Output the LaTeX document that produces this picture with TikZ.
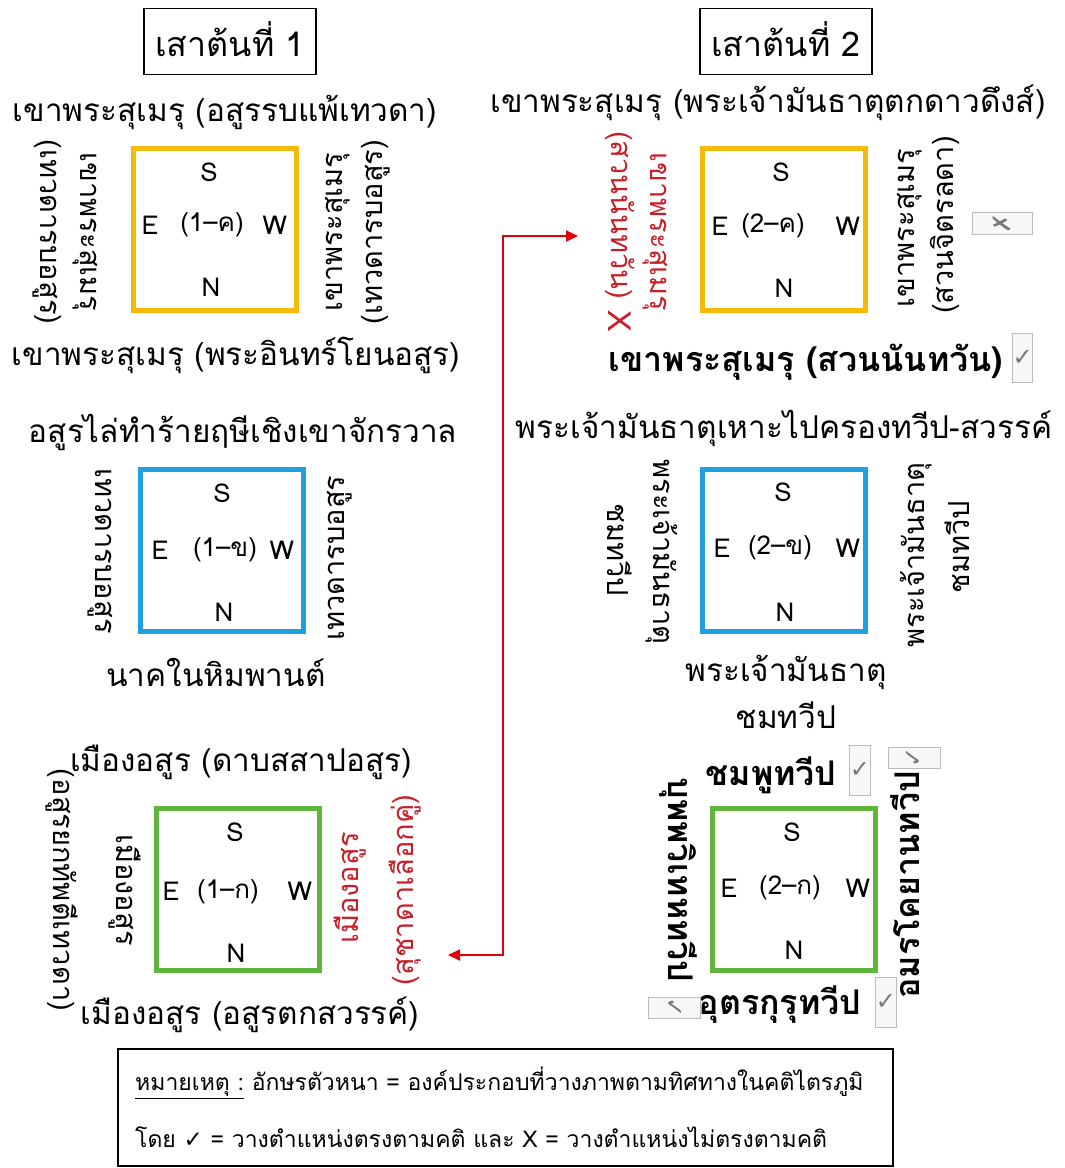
\documentclass[tikz,border=0pt]{standalone}
\usepackage{fontspec}
\setmainfont[Script=Thai]{Loma}
\newfontfamily\symf{DejaVu Sans}
\usetikzlibrary{arrows.meta}
\definecolor{gold}{RGB}{245,186,5}
\definecolor{skyb}{RGB}{30,160,225}
\definecolor{grn}{RGB}{96,182,60}
\definecolor{tred}{RGB}{200,30,40}
\definecolor{ared}{RGB}{228,0,10}
\definecolor{mgray}{RGB}{120,120,120}
\begin{document}
\begin{tikzpicture}[x=1pt,y=-1pt,
  lbl/.style={inner sep=0pt,font=\fontsize{31.5}{42}\selectfont,align=center},
  blbl/.style={inner sep=0pt,font=\fontsize{34}{42}\selectfont\bfseries,align=center},
  vl/.style={inner sep=0pt,font=\fontsize{29}{40}\selectfont,align=center},
  rl/.style={vl,rotate=-90},
  rr/.style={vl,rotate=90},
  dir/.style={inner sep=0pt,font=\fontsize{26}{30}\selectfont},
  pillar/.style={draw,line width=5pt,fill=white,minimum width=163pt,minimum height=162pt,inner sep=0pt},
  title/.style={draw,line width=1.2pt,minimum width=172pt,minimum height=66pt,font=\fontsize{34}{38}\selectfont,inner sep=0pt},
  chk/.style={draw=mgray!50,line width=1pt,fill=gray!6,inner sep=0pt,text=mgray,font=\symf\fontsize{24}{26}\selectfont},
  legend/.style={draw,line width=1.2pt,minimum width=775pt,minimum height=117pt,inner sep=0pt},
  legtxt/.style={inner sep=0pt,anchor=west,font=\fontsize{23}{26}\selectfont},
  redarrow/.style={draw=ared,line width=2.2pt,{Triangle[length=12pt,width=11pt]}-{Triangle[length=12pt,width=11pt]}}
]
\useasboundingbox (0,0) rectangle (1065,1168);

% titles
\node[title] (t1) at (230,41.5) {\raisebox{5pt}{เสาต้นที่ 1}};
\node[title] (t2) at (786,41.5) {\raisebox{5pt}{เสาต้นที่ 2}};

% ---------- pillar 1 ----------
% 1-ค
\node[pillar,draw=gold] (b1c) at (215,229.5) {};
\node[dir] (b1cS) at (209,172) {S};
\node[dir] (b1cE) at (150,225) {E};
\node[dir] (b1cC) at (212,225) {(1–ค)};
\node[dir] (b1cW) at (275,225) {W};
\node[dir] (b1cN) at (211,287) {N};
\node[lbl] (top1c) at (225,112) {เขาพระสุเมรุ (อสูรรบแพ้เทวดา)};
\node[rl] (left1c) at (65,232) {เขาพระสุเมรุ\\(เทวดารบอสูร)};
\node[rr] (right1c) at (358,232) {เขาพระสุเมรุ\\(เทวดารบอสูร)};
\node[lbl] (bot1c) at (236,355) {เขาพระสุเมรุ (พระอินทร์โยนอสูร)};

% 1-ข
\node[pillar,draw=skyb] (b1k) at (222,550) {};
\node[dir] (b1kS) at (222,493) {S};
\node[dir] (b1kE) at (160,550) {E};
\node[dir] (b1kC) at (225,550) {(1–ข)};
\node[dir] (b1kW) at (282,550) {W};
\node[dir] (b1kN) at (224,612) {N};
\node[lbl] (top1k) at (243,432) {อสูรไล่ทำร้ายฤษีเชิงเขาจักรวาล};
\node[rl] (left1k) at (100,551) {เทวดารบอสูร};
\node[rr] (right1k) at (340,558) {เทวดารบอสูร};
\node[lbl] (bot1k) at (216,672) {นาคในหิมพานต์};

% 1-ก
\node[pillar,draw=grn] (b1g) at (237.5,889.5) {};
\node[dir] (b1gS) at (235,832) {S};
\node[dir] (b1gE) at (171,891) {E};
\node[dir] (b1gC) at (228,892) {(1–ก)};
\node[dir] (b1gW) at (300,891) {W};
\node[dir] (b1gN) at (236,953) {N};
\node[lbl] (top1g) at (241,762) {เมืองอสูร (ดาบสสาปอสูร)};
\node[rl] (left1gi) at (125,890) {เมืองอสูร};
\node[rl] (left1go) at (62,890) {(อสูรยกทัพตีเทวดา)};
\node[rr,text=tred] (right1gi) at (350,888) {เมืองอสูร};
\node[rr,text=tred] (right1go) at (405,890) {(สุชาดาเลือกคู่)};
\node[lbl] (bot1g) at (250,1015) {เมืองอสูร (อสูรตกสวรรค์)};

% ---------- pillar 2 ----------
% 2-ค
\node[pillar,draw=gold] (b2c) at (784,229) {};
\node[dir] (b2cS) at (781,172) {S};
\node[dir] (b2cE) at (720,226) {E};
\node[dir] (b2cC) at (773,226) {(2–ค)};
\node[dir] (b2cW) at (848,226) {W};
\node[dir] (b2cN) at (784,288) {N};
\node[lbl] (top2c) at (768,103) {เขาพระสุเมรุ (พระเจ้ามันธาตุตกดาวดึงส์)};
\node[rl,text=tred] (left2ci) at (655,232) {เขาพระสุเมรุ};
\node[rl,text=tred] (left2co) at (620,215) {(สวนนันทวัน)};
\node[rl,text=tred,font=\fontsize{32}{36}\selectfont] (left2cx) at (620,321) {X};
\node[rr] (right2ci) at (910,228) {เขาพระสุเมรุ};
\node[rr] (right2co) at (945,225) {(สวนจิตรลดา)};
\node[chk,rotate=90,minimum width=22pt,minimum height=60pt] (m2cx) at (1002,223) {✗};
\node[blbl] (bot2c) at (806,362) {เขาพระสุเมรุ (สวนนันทวัน)};
\node[chk,minimum width=20pt,minimum height=49pt,anchor=west] (m2cc) at (1012,357.5) {✓};

% 2-ข
\node[pillar,draw=skyb] (b2k) at (783.5,550) {};
\node[dir] (b2kS) at (783,492) {S};
\node[dir] (b2kE) at (722,548) {E};
\node[dir] (b2kC) at (780,548) {(2–ข)};
\node[dir] (b2kW) at (848,548) {W};
\node[dir] (b2kN) at (785,612) {N};
\node[lbl] (top2k) at (784,428) {พระเจ้ามันธาตุเหาะไปครองทวีป-สวรรค์};
\node[rl] (left2ki) at (662,552) {พระเจ้ามันธาตุ};
\node[rl] (left2ko) at (620,550) {ชมทวีป};
\node[rr] (right2ki) at (916,555) {พระเจ้ามันธาตุ};
\node[rr] (right2ko) at (957,547) {ชมทวีป};
\node[lbl,font=\fontsize{31.5}{47}\selectfont] (bot2k) at (786,692) {พระเจ้ามันธาตุ\\ชมทวีป};

% 2-ก
\node[pillar,draw=grn] (b2g) at (794,889) {};
\node[dir] (b2gS) at (792,832) {S};
\node[dir] (b2gE) at (729,888) {E};
\node[dir] (b2gC) at (790,888) {(2–ก)};
\node[dir] (b2gW) at (858,888) {W};
\node[dir] (b2gN) at (794,950) {N};
\node[blbl] (top2g) at (771,775) {ชมพูทวีป};
\node[chk,minimum width=20pt,minimum height=50pt] (m2gt) at (860,770) {✓};
\node[chk,rotate=90,minimum width=21pt,minimum height=52pt] (m2gr) at (914,757.5) {✓};
\node[blbl,rotate=-90] (left2g) at (678,880) {บุพพวิเทหทวีป};
\node[blbl,rotate=90] (right2g) at (905,885) {อมรโคยานทวีป};
\node[blbl] (bot2g) at (780,1005) {อุตรกุรุทวีป};
\node[chk,minimum width=20pt,minimum height=50pt] (m2gb) at (886,1002) {✓};
\node[chk,rotate=-90,minimum width=21pt,minimum height=52pt] (m2gl) at (674,1007.5) {✓};

% red connector
\coordinate (arrA) at (578,236);
\coordinate (arrB) at (448,955);
\draw[redarrow] (arrA) -- (503,236) -- (503,955) -- (arrB);

% legend
\node[legend] (leg) at (505.5,1107.5) {};
\node[legtxt] (leg1) at (135,1083) {\underline{หมายเหตุ :} อักษรตัวหนา = องค์ประกอบที่วางภาพตามทิศทางในคติไตรภูมิ};
\node[legtxt] (leg2) at (135,1137) {โดย {\symf ✓} = วางตำแหน่งตรงตามคติ และ X = วางตำแหน่งไม่ตรงตามคติ};
\end{tikzpicture}
\end{document}
